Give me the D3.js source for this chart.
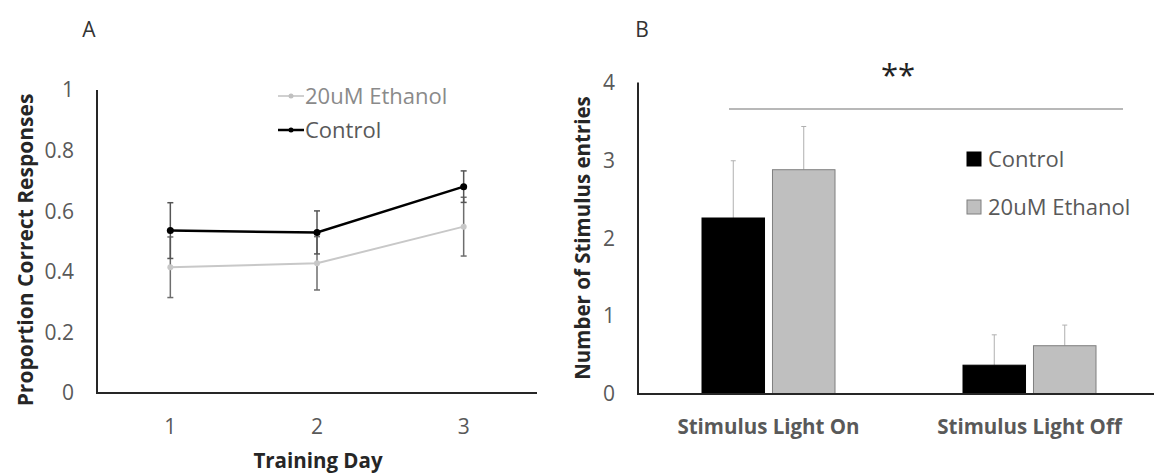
<!DOCTYPE html>
<html>
<head>
<meta charset="utf-8">
<script src="https://cdn.jsdelivr.net/npm/d3@7"></script>
<style>
  body { margin: 0; padding: 0; background: white; }
  text { font-family: "Open Sans", sans-serif; }
</style>
</head>
<body>
<div id="chart"></div>
<script>
const width = 1154;
const height = 473;

// panel A data
const days = ["1", "2", "3"];
const controlMean = [0.536, 0.530, 0.681];
const controlErr = [0.092, 0.071, 0.052];
const ethanolMean = [0.415, 0.428, 0.549];
const ethanolErr = [0.100, 0.088, 0.097];
const ticksA = [0, 0.2, 0.4, 0.6, 0.8, 1];

// panel B data
const conditions = ["Stimulus Light On", "Stimulus Light Off"];
const groups = ["Control", "20uM Ethanol"];
const barControl = [2.26, 0.37];
const barControlErr = [0.735, 0.39];
const barEthanol = [2.88, 0.62];
const barEthanolErr = [0.555, 0.265];
const ticksB = [0, 1, 2, 3, 4];

const textGray = "#595959";
const axisColor = "#262626";

const svg = d3.select("#chart")
  .append("svg")
  .attr("width", width)
  .attr("height", height);

// ---------- Panel A ----------
const xA = d3.scaleBand().domain(days).range([97, 537]);
const yA = d3.scaleLinear().domain([0, 1]).range([393, 90]);

svg.append("text")
  .attr("x", 89).attr("y", 30)
  .attr("dy", "0.35em")
  .attr("text-anchor", "middle")
  .style("font-size", "21px")
  .style("fill", "#333")
  .text("A");

const axisA = svg.append("g");
axisA.append("line")
  .attr("x1", 97).attr("x2", 97)
  .attr("y1", yA(1)).attr("y2", yA(0))
  .attr("stroke", axisColor).attr("stroke-width", 2);
axisA.append("line")
  .attr("x1", 96).attr("x2", 537)
  .attr("y1", yA(0)).attr("y2", yA(0))
  .attr("stroke", axisColor).attr("stroke-width", 2);

axisA.selectAll(".ytickA")
  .data(ticksA)
  .enter()
  .append("text")
  .attr("x", 74)
  .attr("y", d => yA(d))
  .attr("dy", "0.35em")
  .attr("text-anchor", "end")
  .style("font-size", "21px")
  .style("fill", textGray)
  .text(d => d);

axisA.selectAll(".xtickA")
  .data(days)
  .enter()
  .append("text")
  .attr("x", d => xA(d) + xA.bandwidth() / 2)
  .attr("y", 427)
  .attr("dy", "0.35em")
  .attr("text-anchor", "middle")
  .style("font-size", "21px")
  .style("fill", textGray)
  .text(d => d);

svg.append("text")
  .attr("x", 318).attr("y", 461)
  .attr("dy", "0.35em")
  .attr("text-anchor", "middle")
  .style("font-size", "20.5px")
  .style("font-weight", "bold")
  .style("fill", axisColor)
  .text("Training Day");

svg.append("text")
  .attr("transform", "translate(26,250) rotate(-90)")
  .attr("dy", "0.35em")
  .attr("text-anchor", "middle")
  .style("font-size", "21px")
  .style("font-weight", "bold")
  .style("fill", axisColor)
  .text("Proportion Correct Responses");

function drawSeries(means, errs, color, errColor, lineW, r) {
  const pts = means.map((m, i) => ({ x: xA(days[i]) + xA.bandwidth() / 2, m: m, e: errs[i] }));
  const g = svg.append("g");
  // error bars
  g.selectAll(".err")
    .data(pts)
    .enter()
    .append("line")
    .attr("x1", d => d.x).attr("x2", d => d.x)
    .attr("y1", d => yA(d.m - d.e)).attr("y2", d => yA(d.m + d.e))
    .attr("stroke", errColor).attr("stroke-width", 1.5);
  [-1, 1].forEach(s => {
    g.selectAll(".cap" + s)
      .data(pts)
      .enter()
      .append("line")
      .attr("x1", d => d.x - 3).attr("x2", d => d.x + 3)
      .attr("y1", d => yA(d.m + s * d.e)).attr("y2", d => yA(d.m + s * d.e))
      .attr("stroke", errColor).attr("stroke-width", 1.5);
  });
  g.append("path")
    .datum(pts)
    .attr("fill", "none")
    .attr("stroke", color)
    .attr("stroke-width", lineW)
    .attr("d", d3.line().x(d => d.x).y(d => yA(d.m)));
  g.selectAll(".pt")
    .data(pts)
    .enter()
    .append("circle")
    .attr("cx", d => d.x).attr("cy", d => yA(d.m))
    .attr("r", r)
    .attr("fill", color);
}

drawSeries(ethanolMean, ethanolErr, "#c8c8c8", "#6e6e6e", 2, 3);
drawSeries(controlMean, controlErr, "#000", "#555", 2.5, 3.5);

// legend A
const legA = [
  { name: "20uM Ethanol", color: "#c0c0c0", y: 96, w: 1.5 },
  { name: "Control", color: "#000", y: 130, w: 2.5 }
];
const legAg = svg.append("g");
legAg.selectAll("line")
  .data(legA).enter().append("line")
  .attr("x1", 278).attr("x2", 304)
  .attr("y1", d => d.y).attr("y2", d => d.y)
  .attr("stroke", d => d.color).attr("stroke-width", d => d.w);
legAg.selectAll("circle")
  .data(legA).enter().append("circle")
  .attr("cx", 291).attr("cy", d => d.y).attr("r", 2.5)
  .attr("fill", d => d.color);
legAg.selectAll("text")
  .data(legA).enter().append("text")
  .attr("x", 305).attr("y", d => d.y)
  .attr("dy", "0.35em")
  .style("font-size", "22px")
  .style("fill", d => d.name === "Control" ? textGray : "#8a8a8a")
  .text(d => d.name);

// ---------- Panel B ----------
const xB = d3.scaleBand().domain(conditions).range([638, 1160]);
const xInner = d3.scaleBand().domain(groups).range([64, 197]).paddingInner(0.113);
const yB = d3.scaleLinear().domain([0, 4]).range([394, 82.5]);

svg.append("text")
  .attr("x", 642).attr("y", 30)
  .attr("dy", "0.35em")
  .attr("text-anchor", "middle")
  .style("font-size", "21px")
  .style("fill", "#333")
  .text("B");

const barData = [];
conditions.forEach((c, i) => {
  barData.push({ cond: c, group: groups[0], v: barControl[i], e: barControlErr[i] });
  barData.push({ cond: c, group: groups[1], v: barEthanol[i], e: barEthanolErr[i] });
});
const fillB = { "Control": "#000", "20uM Ethanol": "#bfbfbf" };
const strokeB = { "Control": "#000", "20uM Ethanol": "#7f7f7f" };

const barsB = svg.append("g");
// error bars (up only)
barsB.selectAll(".errB")
  .data(barData).enter().append("line")
  .attr("x1", d => xB(d.cond) + xInner(d.group) + xInner.bandwidth() / 2)
  .attr("x2", d => xB(d.cond) + xInner(d.group) + xInner.bandwidth() / 2)
  .attr("y1", d => yB(d.v)).attr("y2", d => yB(d.v + d.e))
  .attr("stroke", "#b0b0b0").attr("stroke-width", 1);
barsB.selectAll(".capB")
  .data(barData).enter().append("line")
  .attr("x1", d => xB(d.cond) + xInner(d.group) + xInner.bandwidth() / 2 - 2.5)
  .attr("x2", d => xB(d.cond) + xInner(d.group) + xInner.bandwidth() / 2 + 2.5)
  .attr("y1", d => yB(d.v + d.e)).attr("y2", d => yB(d.v + d.e))
  .attr("stroke", "#b0b0b0").attr("stroke-width", 1);
barsB.selectAll("rect")
  .data(barData).enter().append("rect")
  .attr("x", d => xB(d.cond) + xInner(d.group))
  .attr("y", d => yB(d.v))
  .attr("width", xInner.bandwidth())
  .attr("height", d => yB(0) - yB(d.v))
  .attr("fill", d => fillB[d.group])
  .attr("stroke", d => strokeB[d.group])
  .attr("stroke-width", 1);

const axisB = svg.append("g");
axisB.append("line")
  .attr("x1", 638).attr("x2", 638)
  .attr("y1", yB(4)).attr("y2", yB(0))
  .attr("stroke", axisColor).attr("stroke-width", 2);
axisB.append("line")
  .attr("x1", 637).attr("x2", 1160)
  .attr("y1", yB(0)).attr("y2", yB(0))
  .attr("stroke", axisColor).attr("stroke-width", 2);

axisB.selectAll(".ytickB")
  .data(ticksB).enter().append("text")
  .attr("x", 615)
  .attr("y", d => yB(d))
  .attr("dy", "0.35em")
  .attr("text-anchor", "end")
  .style("font-size", "21px")
  .style("fill", textGray)
  .text(d => d);

axisB.selectAll(".xtickB")
  .data(conditions).enter().append("text")
  .attr("x", d => xB(d) + xB.bandwidth() / 2)
  .attr("y", 427)
  .attr("dy", "0.35em")
  .attr("text-anchor", "middle")
  .style("font-size", "20.5px")
  .style("font-weight", "bold")
  .style("fill", textGray)
  .text(d => d);

svg.append("text")
  .attr("transform", "translate(583,238) rotate(-90)")
  .attr("dy", "0.35em")
  .attr("text-anchor", "middle")
  .style("font-size", "20.5px")
  .style("font-weight", "bold")
  .style("fill", axisColor)
  .text("Number of Stimulus entries");

// significance
svg.append("line")
  .attr("x1", 729).attr("x2", 1123)
  .attr("y1", 109).attr("y2", 109)
  .attr("stroke", "#a0a0a0").attr("stroke-width", 1.5);
svg.append("text")
  .attr("x", 898).attr("y", 75)
  .attr("dy", "0.35em")
  .attr("text-anchor", "middle")
  .style("font-size", "31px")
  .style("fill", "#222")
  .text("**");

// legend B
const legB = svg.append("g");
legB.selectAll("rect")
  .data(groups).enter().append("rect")
  .attr("x", 967)
  .attr("y", (d, i) => 152 + i * 48)
  .attr("width", 14).attr("height", 14)
  .attr("fill", d => fillB[d])
  .attr("stroke", d => strokeB[d]);
legB.selectAll("text")
  .data(groups).enter().append("text")
  .attr("x", 988)
  .attr("y", (d, i) => 159 + i * 48)
  .attr("dy", "0.35em")
  .style("font-size", "22px")
  .style("fill", textGray)
  .text(d => d);
</script>
</body>
</html>
